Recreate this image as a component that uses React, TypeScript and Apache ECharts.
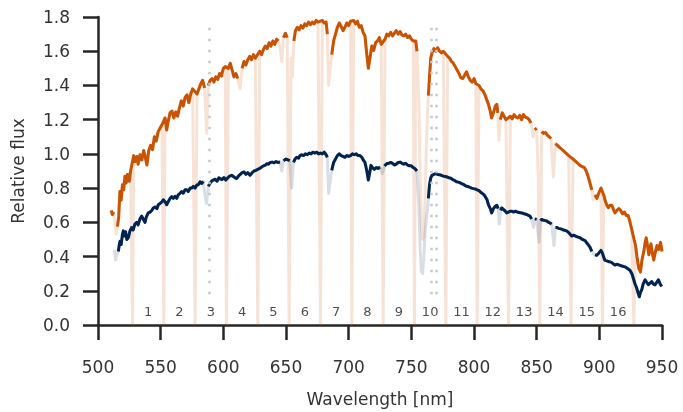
import React, { useEffect, useRef } from "react";
import * as echarts from "echarts";

// ---- data ----
const orangeSpectrum: [number, number][] = [
  [510.5,0.67],[511.5,0.645],[512.5,0.66],[513.5,0.60],[514.5,0.53],[515.5,0.575],[516.5,0.63],[517.5,0.78],[518.5,0.73],[519.5,0.82],[520.5,0.79],[521.5,0.87],[522.5,0.83],[523.5,0.88],[525,0.84],[526,0.9],
  [528.5,0.99],[529.5,0.955],[531,0.985],[532,0.94],[533.5,0.995],[535,0.965],[536.5,1.02],[538,0.97],[539,0.935],[540.5,1.02],[542,1.05],[543.5,1.025],[545,1.1],[546.5,1.075],[548,1.13],[549.5,1.15],[551,1.17],
  [553.5,1.21],[554.8,1.14],[556,1.19],[557.5,1.24],[559,1.25],[560.5,1.21],[562,1.245],[563.5,1.22],[565,1.27],[566.5,1.31],[568,1.28],[569.5,1.33],[571,1.345],[572.5,1.3],[574,1.35],[575.5,1.38],
  [579,1.35],[580.5,1.38],[582,1.41],[583.5,1.43],[585,1.385],[586.7,1.12],[588,1.40],[589.5,1.43],[591,1.44],[592.5,1.42],[594,1.45],[595.5,1.435],[597,1.47],[598.5,1.455],[600,1.5],[601.5,1.51],
  [604,1.5],[605.5,1.53],[607,1.49],[608.5,1.45],[610,1.47],[611.5,1.44],[613.3,1.38],[615,1.5],[616.5,1.54],[618,1.52],[619.5,1.55],[621,1.57],[622.5,1.55],[624,1.58],[625.5,1.56],
  [629,1.6],[630.5,1.58],[632,1.61],[633.5,1.63],[635,1.615],[636.5,1.65],[638,1.63],[639.5,1.66],[641,1.64],[642.5,1.67],[644,1.66],[645.5,1.61],[646.6,1.54],[648,1.68],[649.5,1.705],[651,1.68],
  [654,1.56],[655,1.45],[656.3,1.66],[657.5,1.72],[659,1.74],[660.5,1.725],[662,1.75],[663.5,1.735],[665,1.76],[666.5,1.75],[668,1.77],[669.5,1.755],[671,1.77],[672.5,1.76],[674,1.78],[675.5,1.77],
  [679,1.78],[680.5,1.765],[682,1.77],[683,1.7],[684,1.4],[685.3,1.5],[686.5,1.58],[688,1.66],[689.5,1.7],[691,1.74],[692.5,1.765],[694,1.745],[695.5,1.72],[697,1.74],[698.5,1.765],[700,1.75],[701.5,1.775],
  [704,1.78],[705.5,1.76],[707,1.775],[708.5,1.74],[710,1.75],[711.5,1.71],[713,1.69],[714.5,1.58],[715.7,1.5],[717,1.56],[718.5,1.63],[720,1.605],[721.5,1.65],[723,1.66],[724.5,1.68],[726,1.64],
  [729,1.67],[730.5,1.7],[732,1.69],[733.5,1.71],[735,1.69],[736.5,1.705],[738,1.72],[739.5,1.7],[741,1.715],[742.5,1.695],[744,1.69],[745.5,1.7],[747,1.68],[748.5,1.69],[750,1.67],[751.5,1.66],
  [753.5,1.66],[754.5,1.6],[756,1.3],[757,0.9],[758,0.6],[759,0.5],[760,0.52],[761,0.75],[762,1.05],[763,1.25],[763.6,1.34],[764.5,1.45],[765.5,1.56],[766.5,1.59],[768,1.615],[769.5,1.6],[771,1.62],[772.5,1.6],[774,1.59],[775.5,1.6],
  [779,1.57],[780.5,1.56],[782,1.54],[783.5,1.53],[785,1.51],[786.5,1.49],[788,1.47],[789.5,1.445],[791,1.44],[792.5,1.46],[794,1.48],[795.5,1.45],[797,1.43],[798.5,1.42],[800,1.44],[801.5,1.41],
  [804,1.4],[805.5,1.38],[807,1.37],[808.5,1.35],[810,1.32],[811.5,1.29],[813,1.25],[814,1.21],[815.5,1.24],[817,1.28],[818.2,1.29],[819,1.24],[820,1.08],[821,1.2],[822.5,1.24],[824,1.22],[825.5,1.2],
  [829,1.22],[830.5,1.205],[832,1.23],[833.5,1.215],[835,1.21],[836.5,1.225],[838,1.2],[839.5,1.23],[841,1.215],[842.5,1.21],[844,1.2],[845.5,1.18],[847,1.1],[848.5,1.14],[850,1.15],[851.3,0.866],
  [854,1.13],[855.5,1.12],[857,1.125],[858.5,1.11],[860,1.1],[861.5,1.09],[863.3,0.866],[865,1.06],[866.5,1.05],[868,1.04],[869.5,1.03],[871,1.02],[872.5,1.01],[874,1.0],[875.5,0.99],
  [879,0.97],[880.5,0.96],[882,0.95],[883.5,0.94],[885,0.93],[886.5,0.925],[888,0.92],[889.5,0.9],[891,0.87],[892.5,0.83],[894,0.79],[895.2,0.73],[896.5,0.76],[898,0.74],[899.5,0.77],[901.3,0.8],
  [903.5,0.76],[904.5,0.73],[906,0.7],[907.2,0.685],[908.5,0.7],[910,0.7],[911.5,0.67],[912.5,0.655],[914,0.67],[915.5,0.68],[917,0.67],[918.5,0.65],[920,0.66],[921.5,0.64],[923,0.64],[924.5,0.6],[925.8,0.56],
  [928.9,0.464],[930,0.4],[931.5,0.33],[932.8,0.31],[934,0.38],[935.5,0.43],[936.5,0.48],[937.4,0.51],[938.5,0.46],[939.5,0.41],[940.5,0.45],[941.2,0.474],[942.3,0.42],[943.4,0.38],[944.5,0.42],[946,0.464],[947.3,0.44],[948.8,0.483],[950,0.43],
];

const navySpectrum: [number, number][] = [
  [513,0.44],[514,0.38],[515,0.41],[516.2,0.43],[517,0.47],[517.6,0.49],[518.5,0.47],[519.5,0.53],[520.2,0.55],[521,0.52],[522,0.545],[523,0.5],[524.2,0.51],[525.5,0.55],[526.9,0.57],[528,0.555],[529.5,0.59],[530.9,0.6],[532,0.585],[533.5,0.62],[534.9,0.636],[536,0.62],[537.5,0.6],[538.5,0.63],[540.1,0.655],[541.5,0.66],[543,0.67],[544.1,0.684],[545.5,0.69],[547,0.68],[548.1,0.703],[549.5,0.71],[551,0.72],[552.1,0.732],[553.5,0.72],[554.8,0.703],[556,0.72],[557.5,0.74],[558.8,0.75],[560,0.74],[561.5,0.752],[562.8,0.74],[564,0.76],[565.5,0.77],[566.8,0.78],[568,0.77],[569.5,0.79],[570.8,0.79],[572,0.78],[573.5,0.8],[574.8,0.8],[576,0.81],[577.5,0.8],[578.8,0.818],[580,0.82],[581.4,0.837],[582.7,0.827],[584,0.84],[585.4,0.75],[586.7,0.71],[588,0.81],[589.5,0.83],[590.5,0.84],[592,0.847],[593.5,0.852],[595,0.84],[596.5,0.86],[597.3,0.856],[599,0.85],[600.5,0.862],[602,0.847],[603.5,0.86],[605,0.87],[606.7,0.875],[608,0.868],[609.5,0.86],[610.7,0.856],[612,0.87],[613.5,0.88],[615,0.89],[616.5,0.894],[618,0.88],[619.5,0.89],[621.3,0.875],[623,0.89],[624.5,0.9],[626,0.904],[627.5,0.91],[629,0.915],[630.6,0.923],[632,0.93],[633.5,0.935],[634.6,0.942],[636,0.94],[637.5,0.95],[639,0.952],[640.5,0.948],[642,0.955],[643.5,0.95],[645.2,0.952],[646.6,0.9],[648,0.96],[650,0.97],[651.5,0.965],[653,0.96],[654.5,0.8],[656,0.95],[657.2,0.97],[658.5,0.98],[660,0.975],[661.2,0.99],[662.5,0.995],[664,0.99],[665.5,1.0],[667,0.995],[668.5,1.005],[670,1.0],[671.5,1.01],[673,1.005],[674.5,1.01],[676,1.0],[677.5,1.005],[679,1.0],[680.5,1.01],[682,0.995],[683,0.98],[684,0.77],[685.3,0.84],[686.5,0.904],[688,0.95],[689.5,0.97],[691,0.99],[692.5,1.0],[694,0.99],[695.5,0.985],[697,0.98],[698.5,0.99],[700,0.985],[701.5,0.99],[703,1.0],[704.5,0.995],[706,1.0],[707.5,0.99],[709,0.99],[710.5,0.98],[712,0.96],[713,0.95],[714.5,0.9],[715.7,0.847],[717,0.9],[717.8,0.933],[719,0.92],[720.5,0.91],[722,0.92],[723.5,0.915],[725,0.923],[726.8,0.885],[728.5,0.93],[730.3,0.942],[732,0.945],[733.5,0.95],[735,0.945],[736.5,0.935],[738,0.94],[739.5,0.95],[741,0.952],[742.5,0.945],[744,0.94],[745.5,0.945],[747,0.935],[748.5,0.93],[750,0.93],[751.5,0.92],[753,0.913],[754.5,0.9],[756,0.7],[757,0.45],[758,0.31],[759,0.3],[760,0.4],[761,0.55],[762,0.62],[763,0.68],[763.6,0.74],[764.5,0.82],[765.5,0.86],[766.5,0.875],[768,0.88],[769.5,0.885],[771,0.88],[772.5,0.878],[774,0.875],[775.5,0.87],[777,0.868],[778.5,0.865],[780,0.86],[781.5,0.858],[783,0.85],[784.5,0.845],[786,0.837],[787.5,0.835],[789,0.83],[790.5,0.825],[792,0.82],[793.5,0.812],[795,0.81],[796.5,0.805],[798,0.8],[799.5,0.797],[801,0.795],[802.5,0.79],[804,0.785],[805.5,0.775],[806.5,0.77],[808,0.76],[809,0.75],[810.5,0.73],[811.5,0.703],[813,0.68],[814.1,0.655],[815.5,0.68],[817,0.694],[818.2,0.7],[819.3,0.68],[820.2,0.59],[821.2,0.67],[822.1,0.684],[823.5,0.675],[825,0.665],[826.1,0.655],[827.5,0.66],[829,0.665],[830.1,0.665],[831.5,0.66],[833,0.665],[834.5,0.66],[836,0.658],[838.1,0.655],[840,0.65],[842.1,0.646],[843.5,0.64],[844.7,0.636],[846,0.62],[847.4,0.57],[848.5,0.62],[850,0.617],[851.9,0.483],[853,0.61],[854,0.617],[855.5,0.612],[857,0.61],[858,0.608],[859.5,0.6],[861,0.595],[862,0.59],[863.8,0.464],[865,0.57],[865.9,0.57],[867.5,0.565],[869.9,0.56],[871.5,0.555],[873.9,0.55],[875.5,0.54],[877.9,0.52],[879.5,0.525],[881,0.52],[882.5,0.515],[884.6,0.51],[886.5,0.5],[888.6,0.493],[890.5,0.475],[892.5,0.455],[894,0.43],[895.2,0.417],[896.5,0.41],[897.9,0.407],[899.5,0.42],[901.3,0.436],[902.5,0.42],[903.5,0.395],[904.5,0.378],[906,0.375],[907.5,0.37],[908.5,0.369],[910,0.365],[911.5,0.355],[912.5,0.35],[914,0.355],[916,0.35],[918,0.345],[920.4,0.34],[922.5,0.33],[924.4,0.32],[926,0.3],[927.1,0.273],[928.5,0.24],[929.8,0.216],[931,0.185],[931.9,0.165],[932.8,0.19],[933.8,0.206],[935,0.24],[936.5,0.264],[937.8,0.25],[939.1,0.235],[940.5,0.245],[941.8,0.254],[943,0.24],[944.4,0.235],[945.8,0.25],[947.1,0.264],[948.5,0.24],[949.8,0.225],
];

const orangeMask: [number, number][] = [
  [513, 515], [586, 587.5], [613, 614], [645, 647], [653.8, 655.5], [683.5, 685.8],
  [755.5, 763.3], [819.5, 820.5], [846.5, 847.5], [851, 851.8], [863, 863.8], [894.8, 895.6],
];
const navyMask: [number, number][] = [
  [512.5, 515.5], [585, 587], [646, 647], [654, 655], [683.5, 685.5], [726.5, 727],
  [755.5, 763.3], [820, 820.5], [847, 847.8], [851.5, 852.2], [863.5, 864.2], [895, 895.5],
];

const binEdges = [527.5, 552.5, 577.5, 602.5, 627.5, 652.5, 677.5, 702.5, 727.5, 752.5, 777.5, 802.5, 827.5, 852.5, 877.5, 902.5, 927.5];
const binLabels = ["1", "2", "3", "4", "5", "6", "7", "8", "9", "10", "11", "12", "13", "14", "15", "16"];
const binLabelLevel = 0.08;

const refLines = [588.9, 766.2, 769.9];
const refLineRange = [0.18, 1.764];

const xMin = 500, xMax = 950, xStep = 50;
const yMin = 0, yMax = 1.8, yStep = 0.2;

const ORANGE = "#c95300";
const NAVY = "#00234f";
const ORANGE_LIGHT = "rgba(201,83,0,0.16)";
const NAVY_LIGHT = "rgba(0,35,79,0.15)";
const FONT = "DejaVu Sans";

function maskOut(data: [number, number][], mask: [number, number][]) {
  return data.map(([x, y]) => {
    const hidden = mask.some(([a, b]) => x >= a && x <= b);
    return [x, hidden ? "-" : y];
  });
}

function withEdgeDips(data: [number, number][], edges: number[]) {
  const all: [number, number][] = [...data, ...edges.map((e) => [e, 0] as [number, number])];
  return all.sort((a, b) => a[0] - b[0]);
}

export default function App() {
  const ref = useRef<HTMLDivElement>(null);
  useEffect(() => {
    if (!ref.current) return;
    const chart = echarts.init(ref.current, undefined, { renderer: "svg" });
    const binCenters = binLabels.map((l, i) => [(binEdges[i] + binEdges[i + 1]) / 2, binLabelLevel, l]);
    chart.setOption({
      animation: false,
      textStyle: { fontFamily: FONT },
      grid: { left: 98, right: 21, top: 17, bottom: 81, containLabel: false },
      xAxis: {
        type: "value",
        min: xMin,
        max: xMax,
        interval: xStep,
        name: "Wavelength [nm]",
        nameLocation: "middle",
        nameGap: 65,
        nameTextStyle: { fontSize: 17, color: "#333", fontFamily: FONT },
        axisLine: { show: true, onZero: false, lineStyle: { color: "#262626", width: 2.5 } },
        axisTick: { show: true, length: 15, lineStyle: { color: "#262626", width: 2.5 } },
        axisLabel: { fontSize: 17, color: "#333", margin: 33, fontFamily: FONT },
        splitLine: { show: false },
      },
      yAxis: {
        type: "value",
        min: yMin,
        max: yMax,
        interval: yStep,
        name: "Relative flux",
        nameLocation: "middle",
        nameGap: 72,
        nameTextStyle: { fontSize: 17, color: "#333", fontFamily: FONT },
        axisLine: { show: true, onZero: false, lineStyle: { color: "#262626", width: 2.5 } },
        axisTick: { show: true, length: 15, lineStyle: { color: "#262626", width: 2.5 } },
        axisLabel: { fontSize: 17, color: "#333", margin: 28, fontFamily: FONT, formatter: (v: number) => v.toFixed(1) },
        splitLine: { show: false },
      },
      series: [
        {
          type: "line",
          data: [],
          silent: true,
          z: 1,
          markLine: {
            silent: true,
            symbol: "none",
            label: { show: false },
            lineStyle: { color: "#c2c9d4", width: 2.5, type: [2.5, 8.5], cap: "butt" },
            data: refLines.map((x) => [
              { coord: [x, refLineRange[0]] },
              { coord: [x, refLineRange[1]] },
            ]),
          },
        },
        {
          type: "line",
          data: withEdgeDips(orangeSpectrum, binEdges),
          showSymbol: false,
          symbol: "none",
          silent: true,
          z: 2,
          lineStyle: { color: ORANGE_LIGHT, width: 3, join: "round" },
        },
        {
          type: "line",
          data: navySpectrum,
          showSymbol: false,
          symbol: "none",
          silent: true,
          z: 2,
          lineStyle: { color: NAVY_LIGHT, width: 3, join: "round" },
        },
        {
          type: "line",
          data: maskOut(orangeSpectrum, orangeMask),
          showSymbol: false,
          symbol: "none",
          connectNulls: false,
          silent: true,
          z: 3,
          lineStyle: { color: ORANGE, width: 3, join: "round" },
        },
        {
          type: "line",
          data: maskOut(navySpectrum, navyMask),
          showSymbol: false,
          symbol: "none",
          connectNulls: false,
          silent: true,
          z: 3,
          lineStyle: { color: NAVY, width: 3, join: "round" },
        },
        {
          type: "scatter",
          data: binCenters,
          symbolSize: 1,
          itemStyle: { color: "rgba(0,0,0,0)" },
          silent: true,
          z: 4,
          label: {
            show: true,
            position: "inside",
            fontSize: 13,
            color: "#222",
            fontFamily: FONT,
            formatter: (p: any) => p.value[2],
          },
        },
      ],
    });
    return () => chart.dispose();
  }, []);
  return <div ref={ref} style={{ position: "fixed", left: 0, top: 0, width: 683, height: 412 }} />;
}
